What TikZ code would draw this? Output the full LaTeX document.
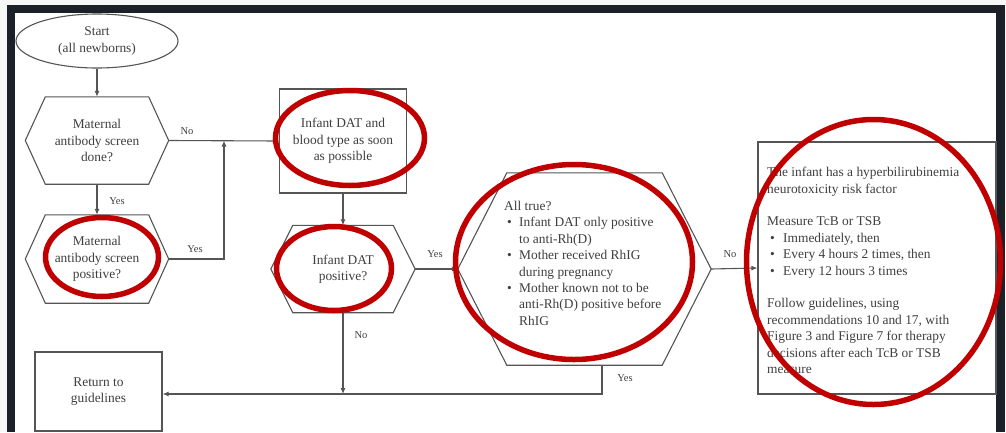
\documentclass[tikz,border=0pt]{standalone}
\usepackage{fontspec}
\setmainfont{Liberation Serif}
\usetikzlibrary{arrows.meta,calc,shapes.geometric}
\definecolor{framecol}{HTML}{1C2029}
\definecolor{ink}{HTML}{3F3F3F}
\definecolor{edgecol}{HTML}{555555}
\definecolor{markcol}{HTML}{C00000}
\tikzset{
  txt/.style={font=\fontsize{13.4}{16.4}\selectfont, text=ink},
  box/.style={txt, draw=edgecol, line width=1.1pt, rectangle, inner sep=0pt, align=center},
  hexbox/.style={txt, rectangle, inner sep=0pt, align=center},
  lbl/.style={font=\fontsize{10.5}{12}\selectfont, text=ink, inner sep=0pt},
  conn/.style={draw=edgecol, line width=1.1pt},
  arr/.style={conn, -{Latex[length=6pt,width=5pt]}},
  ring/.style={draw=markcol, line width=5.5pt},
}
\newcommand\hexpath[2]{\draw[conn] (#1.west) -- ([xshift=#2]#1.north west) -- ([xshift=-#2]#1.north east) -- (#1.east) -- ([xshift=-#2]#1.south east) -- ([xshift=#2]#1.south west) -- cycle;}
\newcommand\bul[1]{\hspace*{3pt}\makebox[#1][l]{\textbullet}}
\newcommand\ind[1]{\hspace*{#1}}
\begin{document}
\begin{tikzpicture}[x=1pt,y=-1pt]
\useasboundingbox (0,0) rectangle (1006,432);
\fill[gray!6] (0,0) rectangle (1006,432);
\fill[framecol] (7,5) rectangle (1005,432);
\fill[white] (15,13) rectangle (996,432);

% nodes
\node[box, ellipse, minimum width=162pt, minimum height=54pt] (start) at (97,41) {Start\\(all newborns)};
\node[hexbox, minimum width=143pt, minimum height=87pt] (h1) at (97,140.5) {Maternal\\antibody screen\\done?};
\hexpath{h1}{20pt}
\node[hexbox, minimum width=143pt, minimum height=88pt] (h2) at (97,259) {Maternal\\antibody screen\\positive?};
\hexpath{h2}{20pt}
\node[box, minimum width=127pt, minimum height=104pt] (b1) at (343,141) {Infant DAT and\\blood type as soon\\as possible};
\node[hexbox, minimum width=144pt, minimum height=87pt] (h3) at (343,269) {Infant DAT\\positive?};
\hexpath{h3}{22pt}
\node[hexbox, minimum width=253pt, minimum height=192pt] (h4) at (584.5,269) {};
\hexpath{h4}{49pt}
\node[txt, anchor=north west, inner sep=0pt, align=left] (h4t) at (504,201) {All true?\\
\bul{12pt}Infant DAT only positive\\
\ind{15pt}to anti-Rh(D)\\
\bul{12pt}Mother received RhIG\\
\ind{15pt}during pregnancy\\
\bul{12pt}Mother known not to be\\
\ind{15pt}anti-Rh(D) positive before\\
\ind{15pt}RhIG};
\node[box, minimum width=238pt, minimum height=252pt] (rbox) at (877,268) {};
\node[txt, anchor=north west, inner sep=0pt, align=left] (rt) at (767,167) {The infant has a hyperbilirubinemia\\
neurotoxicity risk factor\\[16.4pt]
Measure TcB or TSB\\
\bul{13pt}Immediately, then\\
\bul{13pt}Every 4 hours 2 times, then\\
\bul{13pt}Every 12 hours 3 times\\[16.4pt]
Follow guidelines, using\\
recommendations 10 and 17, with\\
Figure 3 and Figure 7 for therapy\\
decisions after each TcB or TSB\\
measure};
\node[box, minimum width=127pt, minimum height=79pt] (ret) at (98.5,391.5) {Return to\\guidelines};

\coordinate (j1) at (224,140.5);
\coordinate (j2) at (343,394);

% connectors
\draw[arr] (start.south) -- (h1.north);
\draw[arr] (h1.south) -- (h2.north);
\draw[arr] (h1.east) -- (b1.west);
\draw[arr] (h2.east) -| (j1);
\draw[arr] (b1.south) -- (h3.north);
\draw[arr] (h3.east) -- (h4.west);
\draw[arr] (h3.south) -- (j2);
\draw[arr] ([xshift=17.5pt]h4.south) |- (j2 -| ret.east);
\draw[arr] (h4.east) -- (rbox.west);

% labels
\node[lbl] (l1) at (187,131) {No};
\node[lbl] (l2) at (117,201) {Yes};
\node[lbl] (l3) at (195,249) {Yes};
\node[lbl] (l4) at (435,254) {Yes};
\node[lbl] (l5) at (361,335) {No};
\node[lbl] (l6) at (625,378) {Yes};
\node[lbl] (l7) at (730,254) {No};

% red annotation rings
\draw[ring] (350,138) ellipse [x radius=74.5, y radius=47.5];
\draw[ring] (102,257) ellipse [x radius=56.5, y radius=39.5];
\draw[ring] (334,268.5) ellipse [x radius=57.5, y radius=42];
\draw[ring] (574,262) ellipse [x radius=118.5, y radius=97.5];
\draw[ring] (873.5,262) ellipse [x radius=127, y radius=142.5];
\end{tikzpicture}
\end{document}
